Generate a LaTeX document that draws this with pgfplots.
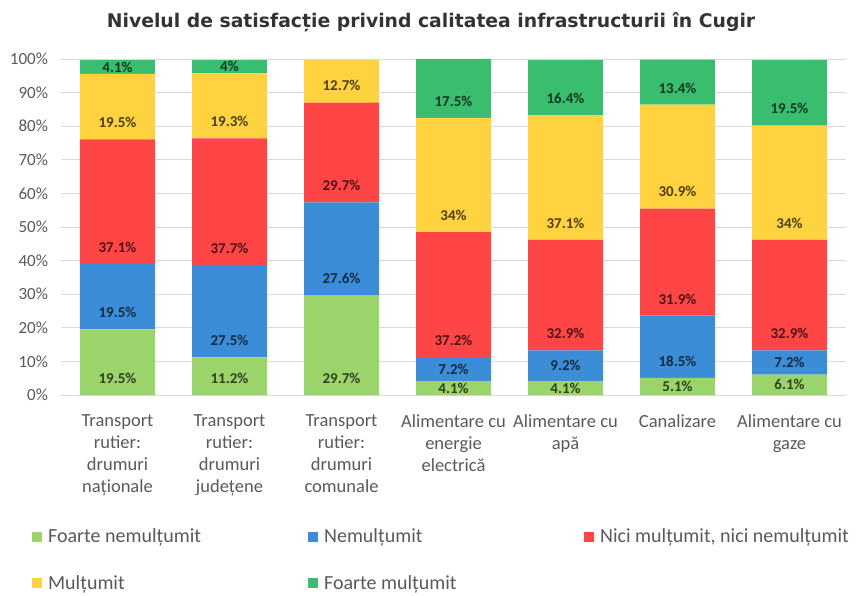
\documentclass[border=0pt]{standalone}
\usepackage{pgfplots}
\pgfplotsset{compat=1.18}
\usepackage{pgfplotstable}
\usepackage{fontspec}
\setmainfont{Carlito}
\newfontfamily\titlefont{DejaVu Sans}
\definecolor{cFN}{HTML}{9BD46A}
\definecolor{cN}{HTML}{3C8DD8}
\definecolor{cNN}{HTML}{FF4545}
\definecolor{cM}{HTML}{FFD23F}
\definecolor{cFM}{HTML}{38BE6E}
\definecolor{tickgray}{HTML}{595959}
\definecolor{gridgray}{HTML}{D9D9D9}
% segment values (percent)
\pgfplotstableread{
x fn n nn m fm
0 19.5 19.5 37.1 19.5 4.1
1 11.2 27.5 37.7 19.3 4
2 29.7 27.6 29.7 12.7 0
3 4.1 7.2 37.2 34 17.5
4 4.1 9.2 32.9 37.1 16.4
5 5.1 18.5 31.9 30.9 13.4
6 6.1 7.2 32.9 34 19.5
}\datatable
% label positions (y) and label values (v)
\pgfplotstableread{
x y v
0 5 19.5
0 24.5 19.5
0 44 37.1
0 81.1 19.5
0 97.65 4.1
1 5 11.2
1 16.2 27.5
1 43.7 37.7
1 81.4 19.3
1 97.7 4
2 5 29.7
2 34.7 27.6
2 62.3 29.7
2 92 12.7
3 2.05 4.1
3 7.7 7.2
3 16.3 37.2
3 53.5 34
3 87.5 17.5
4 2.05 4.1
4 8.7 9.2
4 18.3 32.9
4 51.2 37.1
4 88.3 16.4
5 2.55 5.1
5 10.1 18.5
5 28.6 31.9
5 60.5 30.9
5 91.4 13.4
6 3.05 6.1
6 9.7 7.2
6 18.3 32.9
6 51.2 34
6 85.2 19.5
}\labeltable
\begin{document}
\begin{tikzpicture}[x=1pt,y=1pt]
\useasboundingbox (0,0) rectangle (856,595);
\node[font=\titlefont\bfseries\fontsize{18.8}{22}\selectfont, text=black!80] at (431,573) {Nivelul de satisfacție privind calitatea infrastructurii în Cugir};
\begin{axis}[
  at={(61.5pt,200pt)}, anchor=south west,
  scale only axis, width=784pt, height=336pt,
  ybar stacked, bar width=75pt,
  xmin=-0.5, xmax=6.5, ymin=0, ymax=100,
  /pgf/number format/assume math mode=true,
  axis line style={draw=none},
  tick style={draw=none},
  ymajorgrids, grid style={gridgray, line width=0.8pt},
  ytick={0,10,...,100},
  yticklabel={\pgfmathprintnumber{\tick}\%},
  yticklabel style={font=\fontsize{17}{20}\selectfont, text=tickgray, xshift=-10pt},
  xtick={0,...,6},
  xticklabels={{Transport\\rutier:\\drumuri\\naționale},{Transport\\rutier:\\drumuri\\județene},{Transport\\rutier:\\drumuri\\comunale},{Alimentare cu\\energie\\electrică},{Alimentare cu\\apă},{Canalizare},{Alimentare cu\\gaze}},
  xticklabel style={align=center, font=\fontsize{18.5}{22}\selectfont, text=tickgray, yshift=-16pt},
  legend columns=3,
  legend cell align=left,
  legend style={at={(-0.0377,-0.392)}, anchor=north west, draw=none, fill=none, font=\fontsize{20}{24}\selectfont, text=tickgray, row sep=27pt, inner sep=0pt},
  legend image code/.code={\fill[#1,draw=none] (0pt,-5pt) rectangle (10pt,5pt);},
]
\addplot[fill=cFN, draw=none] table[x=x, y=fn] {\datatable};
\addlegendentry{\makebox[262pt][l]{\hspace{4pt}Foarte nemulțumit}}
\addplot[fill=cN, draw=none] table[x=x, y=n] {\datatable};
\addlegendentry{\makebox[262pt][l]{\hspace{4pt}Nemulțumit}}
\addplot[fill=cNN, draw=none] table[x=x, y=nn] {\datatable};
\addlegendentry{\hspace{4pt}Nici mulțumit, nici nemulțumit}
\addplot[fill=cM, draw=none] table[x=x, y=m] {\datatable};
\addlegendentry{\makebox[262pt][l]{\hspace{4pt}Mulțumit}}
\addplot[fill=cFM, draw=none] table[x=x, y=fm] {\datatable};
\addlegendentry{\makebox[262pt][l]{\hspace{4pt}Foarte mulțumit}}
\end{axis}
\begin{axis}[
  at={(61.5pt,200pt)}, anchor=south west,
  scale only axis, width=784pt, height=336pt,
  xmin=-0.5, xmax=6.5, ymin=0, ymax=100,
  hide axis,
  /pgf/number format/assume math mode=true,
  point meta=explicit,
  nodes near coords={\pgfmathprintnumber{\pgfplotspointmeta}\%},
  nodes near coords align=center,
  every node near coord/.append style={anchor=center, inner sep=0pt, font=\bfseries\fontsize{15}{18}\selectfont, text=black, text opacity=0.7},
]
\addplot[draw=none, mark=none] table[x=x, y=y, meta=v] {\labeltable};
\end{axis}
\end{tikzpicture}
\end{document}
